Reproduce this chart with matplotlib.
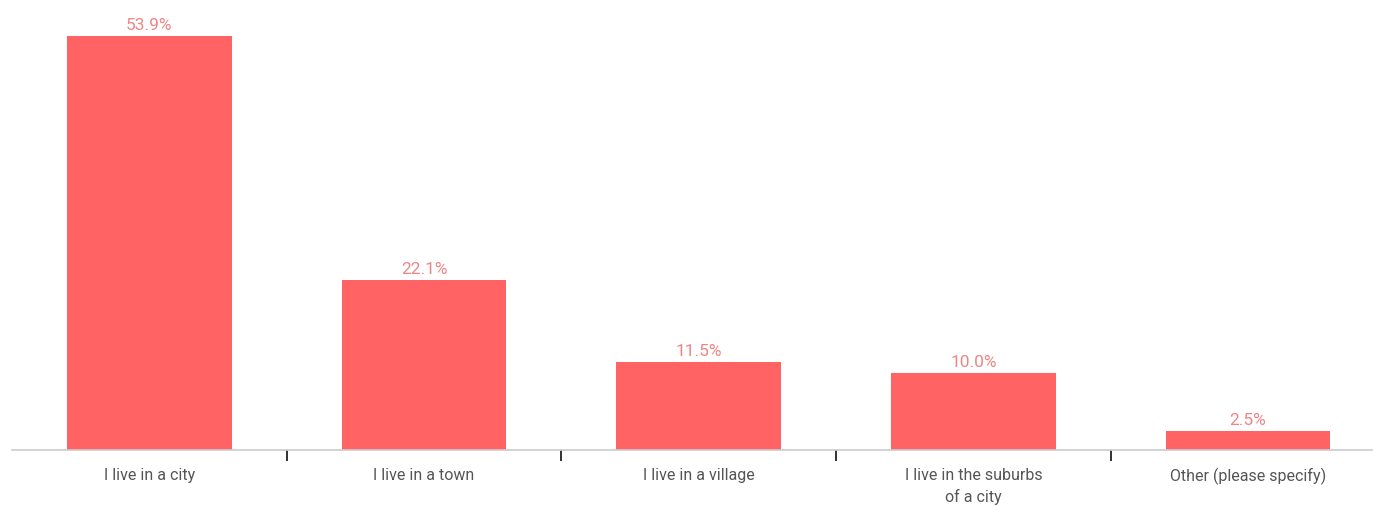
import numpy as np
import matplotlib.pyplot as plt

categories = ["I live in a city", "I live in a town", "I live in a village",
              "I live in the suburbs\nof a city", "Other (please specify)"]
shares = [53.9, 22.1, 11.5, 10.0, 2.5]

bar_color = "#ff6363"
label_color = "#ee8585"

plt.rcParams["font.family"] = ["Roboto", "DejaVu Sans"]

fig = plt.figure(figsize=(13.73, 5.06), dpi=100)
ax = fig.add_axes([12 / 1373, 55 / 506, 1361 / 1373, 451 / 506])

x = np.arange(len(categories))
bars = ax.bar(x, shares, width=0.6, color=bar_color)

# Value labels above each bar
for b, v in zip(bars, shares):
    ax.text(b.get_x() + b.get_width() / 2, v + 0.5, "%.1f%%" % v,
            ha="center", va="bottom", fontsize=12.5, color=label_color)

ax.set_xlim(-0.5, 4.455)
ax.set_ylim(0, 58.7)

# Category names sit under the bars, tick marks go between them
ax.set_xticks(x)
ax.set_xticklabels(categories, fontsize=11.5, color="#555555", linespacing=1.45)
ax.tick_params(axis="x", which="major", length=0, pad=12)
ax.set_xticks(x[:-1] + 0.5, minor=True)
ax.tick_params(axis="x", which="minor", length=8, width=1.3, color="#222222")
ax.set_yticks([])

for side in ("top", "right", "left"):
    ax.spines[side].set_visible(False)
ax.spines["bottom"].set_color("#cccccc")
ax.spines["bottom"].set_linewidth(1.2)

fig.savefig("out.png", dpi=100)
